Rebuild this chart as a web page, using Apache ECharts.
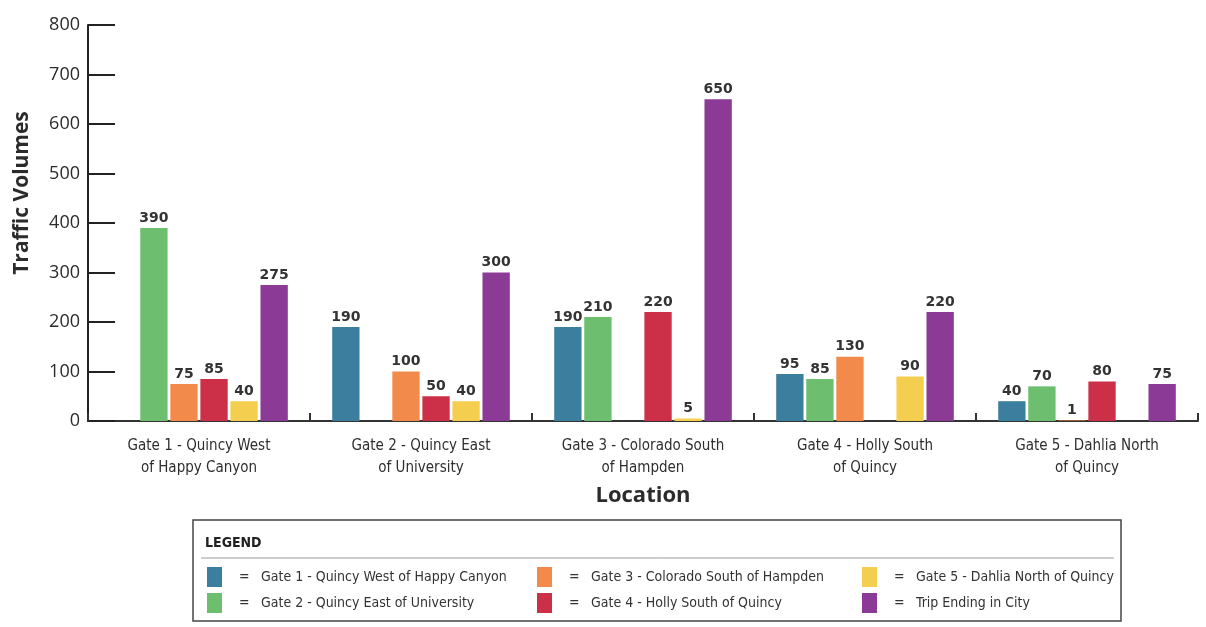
<!DOCTYPE html>
<html>
<head>
<meta charset="utf-8">
<title>Traffic Volumes by Location</title>
<script src="https://cdn.jsdelivr.net/npm/echarts@6/dist/echarts.min.js"></script>
<style>
  html, body { margin: 0; padding: 0; background: #ffffff; }
  #chart { width: 1206px; height: 627px; }
</style>
</head>
<body>
<div id="chart"></div>
<script>
// Survey locations (x-axis categories)
const locations = [
  'Gate 1 - Quincy West\nof Happy Canyon',
  'Gate 2 - Quincy East\nof University',
  'Gate 3 - Colorado South\nof Hampden',
  'Gate 4 - Holly South\nof Quincy',
  'Gate 5 - Dahlia North\nof Quincy'
];

// Destination names (one series each)
const seriesNames = [
  'Gate 1 - Quincy West of Happy Canyon',
  'Gate 2 - Quincy East of University',
  'Gate 3 - Colorado South of Hampden',
  'Gate 4 - Holly South of Quincy',
  'Gate 5 - Dahlia North of Quincy',
  'Trip Ending in City'
];

// Traffic volumes per destination, one value per location (null = no trips counted)
const toGate1 = [null, 190, 190, 95, 40];
const toGate2 = [390, null, 210, 85, 70];
const toGate3 = [75, 100, null, 130, 1];
const toGate4 = [85, 50, 220, null, 80];
const toGate5 = [40, 40, 5, 90, null];
const tripEndingInCity = [275, 300, 650, 220, 75];

// Value axis ticks
const yTicks = [0, 100, 200, 300, 400, 500, 600, 700, 800];

const seriesValues = [toGate1, toGate2, toGate3, toGate4, toGate5, tripEndingInCity];
const seriesColors = ['#3b7e9d', '#6dbf6f', '#f28a4c', '#cc2f48', '#f4cf4f', '#8b3a96'];

const condensed = "'Liberation Sans Narrow', 'DejaVu Sans Condensed', 'Roboto Condensed', 'Arial Narrow', sans-serif";

const chart = echarts.init(document.getElementById('chart'), null, { renderer: 'canvas' });

const series = seriesNames.map((name, i) => ({
  name: name,
  type: 'bar',
  data: seriesValues[i],
  barGap: '10%',
  barCategoryGap: '20%',
  itemStyle: { color: seriesColors[i] },
  label: {
    show: true,
    position: 'top',
    distance: 3,
    fontFamily: 'DejaVu Sans',
    fontWeight: 'bold',
    fontSize: 14,
    color: '#333333'
  }
}));

// Three legend columns, two entries each
function legendColumn(left, names) {
  return {
    data: names,
    left: left,
    top: 567,
    orient: 'vertical',
    itemGap: 6,
    itemWidth: 15,
    itemHeight: 20,
    icon: 'rect',
    padding: 0,
    formatter: n => '{e|=}' + n,
    textStyle: {
      fontFamily: condensed,
      fontSize: 14,
      color: '#333333',
      rich: {
        e: { width: 22, padding: [0, 0, 0, 12], fontFamily: condensed, fontSize: 14, color: '#333333' }
      }
    }
  };
}

const yMin = yTicks[0];
const yMax = yTicks[yTicks.length - 1];

chart.setOption({
  animation: false,
  backgroundColor: '#ffffff',
  grid: { left: 88, right: 8, top: 25, bottom: 206, containLabel: false },
  legend: [
    legendColumn(207, [seriesNames[0], seriesNames[1]]),
    legendColumn(537, [seriesNames[2], seriesNames[3]]),
    legendColumn(862, [seriesNames[4], seriesNames[5]])
  ],
  xAxis: {
    type: 'category',
    data: locations,
    name: 'Location',
    nameLocation: 'middle',
    nameGap: 64,
    nameTextStyle: { fontFamily: 'Open Sans', fontWeight: 'bold', fontSize: 22, color: '#2b2b2b' },
    axisLine: { lineStyle: { color: '#333333', width: 2 } },
    axisTick: { show: true, inside: true, length: 8, lineStyle: { color: '#333333', width: 2 } },
    axisLabel: {
      interval: 0,
      margin: 14,
      fontFamily: condensed,
      fontSize: 15,
      lineHeight: 22,
      color: '#2e2e2e'
    },
    splitLine: { show: false }
  },
  yAxis: {
    type: 'value',
    min: yMin,
    max: yMax,
    interval: yTicks[1] - yTicks[0],
    axisLine: { show: true, lineStyle: { color: '#222222', width: 2 } },
    axisTick: { show: true, inside: true, length: 27, lineStyle: { color: '#222222', width: 2 } },
    axisLabel: {
      margin: 8,
      fontFamily: 'Open Sans',
      fontSize: 18,
      color: '#2b2b2b'
    },
    splitLine: { show: false }
  },
  graphic: [
    {
      type: 'text',
      x: 22,
      y: 193,
      rotation: Math.PI / 2,
      style: {
        text: 'Traffic Volumes',
        fontFamily: 'Open Sans',
        fontWeight: 'bold',
        fontSize: 21,
        fill: '#2b2b2b',
        align: 'center',
        verticalAlign: 'middle'
      }
    },
    {
      type: 'rect',
      shape: { x: 193, y: 520, width: 928, height: 101 },
      style: { fill: 'none', stroke: '#444444', lineWidth: 1.5 }
    },
    {
      type: 'text',
      x: 205,
      y: 543,
      style: {
        text: 'LEGEND',
        fontFamily: condensed,
        fontWeight: 'bold',
        fontSize: 14,
        fill: '#222222',
        verticalAlign: 'middle'
      }
    },
    {
      type: 'line',
      shape: { x1: 201, y1: 558, x2: 1114, y2: 558 },
      style: { stroke: '#9a9a9a', lineWidth: 1 }
    }
  ],
  series: series
});
</script>
</body>
</html>
